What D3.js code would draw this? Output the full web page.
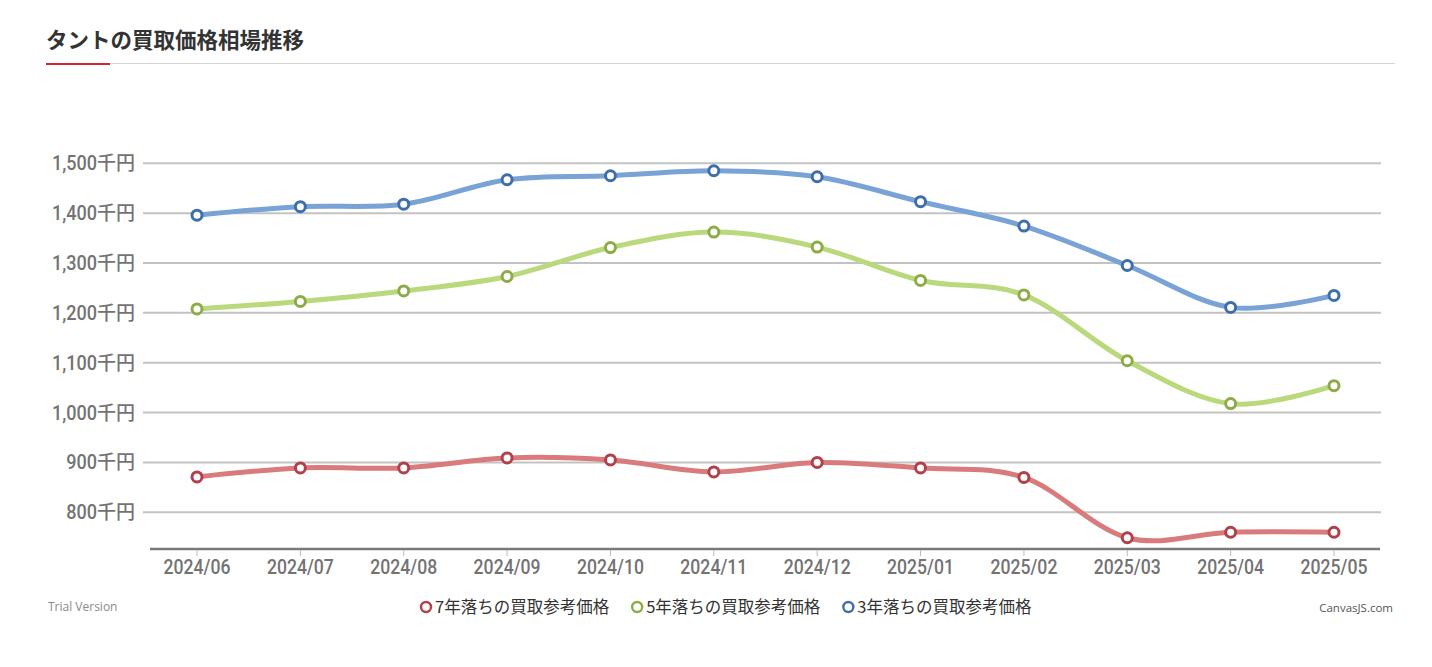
<!DOCTYPE html>
<html>
<head>
<meta charset="utf-8">
<script src="https://cdn.jsdelivr.net/npm/d3@7"></script>
<style>
  html, body { margin: 0; padding: 0; background: #fff; }
  svg { display: block; }
  text { font-family: Roboto, "Noto Sans CJK JP", sans-serif; }
</style>
</head>
<body>
<svg id="chart" width="1432" height="667"></svg>
<script>
const categories = ["2024/06","2024/07","2024/08","2024/09","2024/10","2024/11","2024/12","2025/01","2025/02","2025/03","2025/04","2025/05"];
const series7 = [871, 889, 889, 909, 905, 881, 900, 889, 870, 749, 760, 760];
const series5 = [1208, 1223, 1244, 1273, 1331, 1362, 1332, 1265, 1236, 1104, 1018, 1054];
const series3 = [1396, 1413, 1418, 1467, 1475, 1485, 1473, 1423, 1374, 1295, 1211, 1235];
const seriesNames = ["7年落ちの買取参考価格", "5年落ちの買取参考価格", "3年落ちの買取参考価格"];
const yTicks = [800, 900, 1000, 1100, 1200, 1300, 1400, 1500];
const yMin = 726.4;
const titleText = "タントの買取価格相場推移";

const svg = d3.select("#chart");

// Title
svg.append("text")
  .attr("x", 46).attr("y", 48)
  .style("font-family", "'Noto Sans CJK JP', sans-serif")
  .style("font-weight", 700)
  .style("font-size", "21.5px")
  .attr("fill", "#333")
  .text(titleText);
svg.append("line").attr("x1", 46).attr("x2", 1395).attr("y1", 63.5).attr("y2", 63.5)
  .attr("stroke", "#d4d4d4").attr("stroke-width", 1.2);
svg.append("line").attr("x1", 46).attr("x2", 110).attr("y1", 64).attr("y2", 64)
  .attr("stroke", "#d22630").attr("stroke-width", 2);

// Scales
const x = d3.scalePoint().domain(categories).range([197, 1334]);
const y = d3.scaleLinear().domain([800, 1500]).range([512.3, 163.3]);

// Gridlines
svg.append("g").selectAll("line").data(yTicks).join("line")
  .attr("x1", 143).attr("x2", 1381)
  .attr("y1", d => y(d)).attr("y2", d => y(d))
  .attr("stroke", "#c3c3c3").attr("stroke-width", 2);

// Y labels: condensed numbers + kanji suffix
const yl = svg.append("g");
yTicks.forEach(v => {
  const g = yl.append("g").attr("transform", `translate(135,${y(v) + 7})`);
  g.append("text").attr("text-anchor", "end")
    .style("font-family", "'Noto Sans CJK JP', sans-serif")
    .style("font-size", "19px").style("font-weight", 500).attr("fill", "#737373").text("千円");
  g.append("g").attr("transform", "translate(-38,0) scale(0.88,1)")
    .append("text").attr("text-anchor", "end")
    .style("font-size", "20.5px").style("font-weight", 500).attr("fill", "#737373")
    .text(d3.format(",")(v));
});

// X axis line and ticks
const axisY = y(yMin);
svg.append("line").attr("x1", 150).attr("x2", 1380).attr("y1", axisY).attr("y2", axisY)
  .attr("stroke", "#7a7a7a").attr("stroke-width", 2.5);
svg.append("g").selectAll("line").data(categories).join("line")
  .attr("x1", d => x(d)).attr("x2", d => x(d))
  .attr("y1", axisY + 1).attr("y2", axisY + 7)
  .attr("stroke", "#bbb").attr("stroke-width", 1);
svg.append("g").selectAll("g").data(categories).join("g")
  .attr("transform", d => `translate(${x(d)},${axisY + 25}) scale(0.86,1)`)
  .append("text").attr("text-anchor", "middle")
  .style("font-size", "20.5px").style("font-weight", 500).attr("fill", "#737373")
  .text(d => d);

// Series
const seriesDefs = [
  { name: seriesNames[0], values: series7, line: "#d97a7c", mark: "#b2404b" },
  { name: seriesNames[1], values: series5, line: "#b9d97c", mark: "#8eab47" },
  { name: seriesNames[2], values: series3, line: "#79a2d6", mark: "#3e6eab" }
];
const lineGen = d3.line()
  .x((d, i) => x(categories[i]))
  .y(d => y(d))
  .curve(d3.curveCardinal.tension(0));

seriesDefs.forEach(s => {
  svg.append("path").datum(s.values)
    .attr("d", lineGen)
    .attr("fill", "none")
    .attr("stroke", s.line)
    .attr("stroke-width", 5)
    .attr("stroke-linejoin", "round")
    .attr("stroke-linecap", "round");
});
seriesDefs.forEach(s => {
  svg.append("g").selectAll("circle").data(s.values).join("circle")
    .attr("cx", (d, i) => x(categories[i]))
    .attr("cy", d => y(d))
    .attr("r", 5)
    .attr("fill", "#fff")
    .attr("stroke", s.mark)
    .attr("stroke-width", 3);
});

// Legend
const legend = svg.append("g");
let lx = 420;
const ly = 607;
seriesDefs.forEach(s => {
  legend.append("circle").attr("cx", lx + 6).attr("cy", ly).attr("r", 5)
    .attr("fill", "#fff").attr("stroke", s.mark).attr("stroke-width", 2.4);
  const t = legend.append("text").attr("x", lx + 15).attr("y", ly + 6)
    .style("font-family", "'Noto Sans CJK JP', sans-serif")
    .style("font-size", "16.5px").attr("fill", "#333").text(s.name);
  const w = t.node().getComputedTextLength();
  lx = lx + 15 + w + 22;
});

// Credits
svg.append("text").attr("x", 48).attr("y", 611)
  .style("font-family", "'Open Sans', sans-serif")
  .style("font-size", "12px").attr("fill", "#8a8a8a").text("Trial Version");
svg.append("text").attr("x", 1393).attr("y", 612).attr("text-anchor", "end")
  .style("font-family", "'Open Sans', sans-serif")
  .style("font-size", "11.5px").attr("fill", "#555").text("CanvasJS.com");
</script>
</body>
</html>
